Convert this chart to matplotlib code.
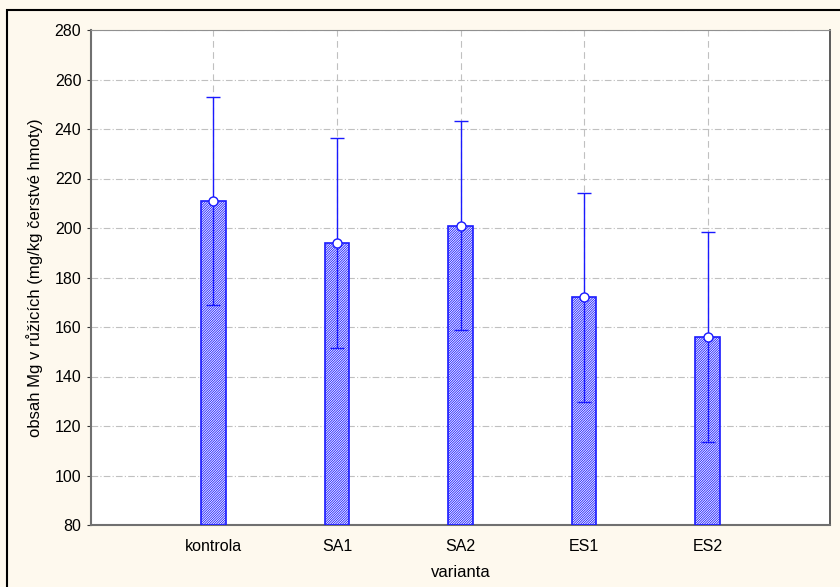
import matplotlib
matplotlib.use("Agg")
import matplotlib.pyplot as plt
from matplotlib.patches import Rectangle

categories = ["kontrola", "SA1", "SA2", "ES1", "ES2"]
means = [211, 194, 201, 172, 156]
errors = [42, 42.3, 42.2, 42.3, 42.4]
yticks = [80, 100, 120, 140, 160, 180, 200, 220, 240, 260, 280]

plt.rcParams['font.family'] = ['Liberation Sans', 'DejaVu Sans']
plt.rcParams['hatch.color'] = '#3a3aff'
plt.rcParams['hatch.linewidth'] = 0.6

fig = plt.figure(figsize=(8.4, 5.87), dpi=100)
fig.patch.set_facecolor('#fef9ee')
fig.patches.append(Rectangle((7/840, -0.1), 1.2, 1 - 10/587 + 0.1, transform=fig.transFigure,
                             fill=False, edgecolor='black', linewidth=1.5, zorder=0))
ax = fig.add_axes([91/840, 1 - 525/587, 739/840, 495/587])
ax.set_facecolor('white')

x = list(range(len(categories)))
ax.bar(x, [m - 80 for m in means], bottom=80, width=0.2, facecolor='white',
       edgecolor='#1a1aff', hatch='/' * 14, linewidth=1.2, zorder=3)
ax.errorbar(x, means, yerr=errors, fmt='none', ecolor='#1a1aff', elinewidth=1.0,
            capsize=5, capthick=1.0, zorder=4)
ax.plot(x, means, linestyle='none', marker='o', markersize=6.5, markerfacecolor='white',
        markeredgecolor='#1a1aff', markeredgewidth=1.0, zorder=5)

ax.set_xlim(-0.99, 4.99)
ax.set_ylim(80, 280)
ax.set_xticks(x)
ax.set_xticklabels(categories, fontsize=11.5)
ax.set_yticks(yticks)
ax.set_yticklabels([str(v) for v in yticks], fontsize=11.5)
ax.tick_params(axis='x', direction='in', length=3, color='#333333', pad=10)
ax.tick_params(axis='y', direction='out', length=3, color='#333333', pad=4)

ax.yaxis.grid(True, color='#c0c0c0', linestyle=(0, (6, 2, 1, 2)), linewidth=0.8, zorder=0)
ax.xaxis.grid(True, color='#c0c0c0', linestyle=(0, (6, 4)), linewidth=0.8, zorder=0)
ax.set_axisbelow(True)

for side in ['left', 'bottom']:
    ax.spines[side].set_color('#707070')
    ax.spines[side].set_linewidth(1.5)
ax.spines['top'].set_color('#909090')
ax.spines['right'].set_color('#404040')
ax.spines['right'].set_linewidth(1.2)

ax.set_xlabel('varianta', fontsize=12, labelpad=8)
ax.set_ylabel('obsah Mg v růžicích (mg/kg čerstvé hmoty)', fontsize=12, labelpad=8)

fig.savefig('out.png', dpi=100, facecolor=fig.get_facecolor())
